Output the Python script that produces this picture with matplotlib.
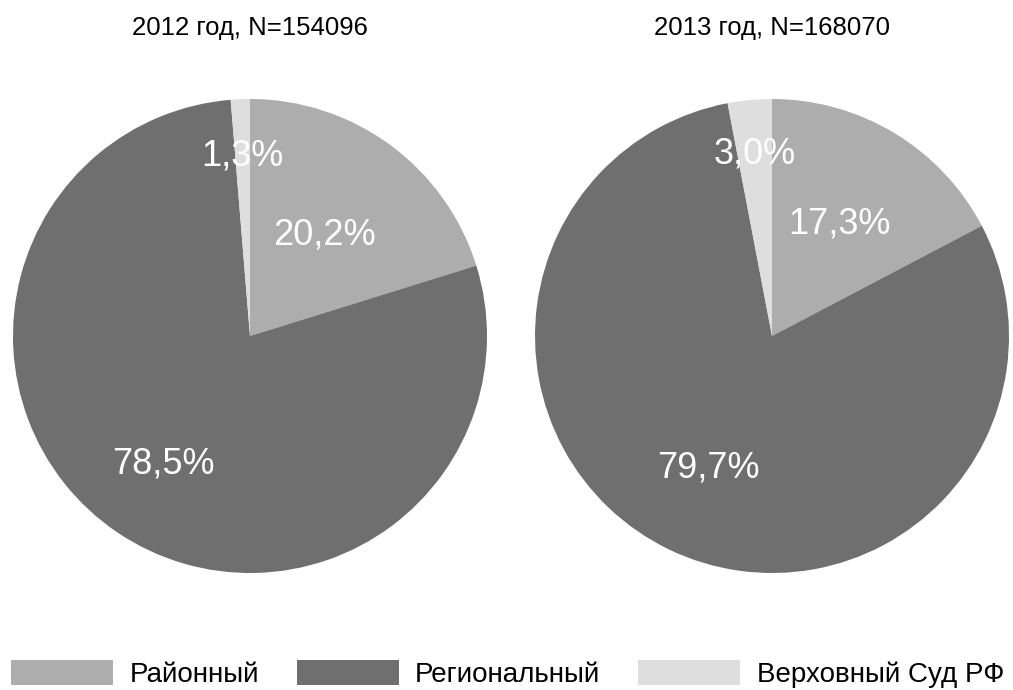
import numpy as np
import matplotlib
matplotlib.use('Agg')
import matplotlib.pyplot as plt
from matplotlib.patches import Patch

plt.rcParams['font.family'] = ['Liberation Sans', 'DejaVu Sans']

categories = ['Районный', 'Региональный', 'Верховный Суд РФ']
titles = ['2012 год, N=154096', '2013 год, N=168070']
values_2012 = [20.2, 78.5, 1.3]
values_2013 = [17.3, 79.7, 3.0]
labels_2012 = ['20,2%', '78,5%', '1,3%']
labels_2013 = ['17,3%', '79,7%', '3,0%']

colors = ['#adadad', '#6f6f6f', '#dedede']
label_r = [[0.53, 0.65, 0.76], [0.55, 0.62, 0.77]]

W, H = 1013, 690
fig = plt.figure(figsize=(W / 100, H / 100), dpi=100)

R = 237
centers = [(250, 336), (772, 336)]
data = [(values_2012, labels_2012), (values_2013, labels_2013)]

for k, ((cx, cy), (vals, labs)) in enumerate(zip(centers, data)):
    ax = fig.add_axes([(cx - R) / W, (H - cy - R) / H, 2 * R / W, 2 * R / H])
    wedges, _ = ax.pie(vals, colors=colors, startangle=90, counterclock=False,
                       radius=1, wedgeprops=dict(linewidth=0))
    for w, lab, r in zip(wedges, labs, label_r[k]):
        ang = np.deg2rad((w.theta1 + w.theta2) / 2)
        ax.text(r * np.cos(ang), r * np.sin(ang), lab, color='white',
                fontsize=26, ha='center', va='center')
    ax.set_xlim(-1, 1); ax.set_ylim(-1, 1)
    ax.set_aspect('equal')
    fig.text(cx / W, 1 - 28 / H, titles[k], ha='center', va='center', fontsize=18.5)

handles = [Patch(facecolor=c, edgecolor='none', label=l) for c, l in zip(colors, categories)]
fig.legend(handles=handles, loc='lower left', bbox_to_anchor=(11 / W, 2 / H), ncol=3,
           frameon=False, fontsize=20, handlelength=3.67, handleheight=1.0,
           handletextpad=0.6, columnspacing=1.35, borderaxespad=0, borderpad=0)

fig.savefig('out.png', dpi=100)
